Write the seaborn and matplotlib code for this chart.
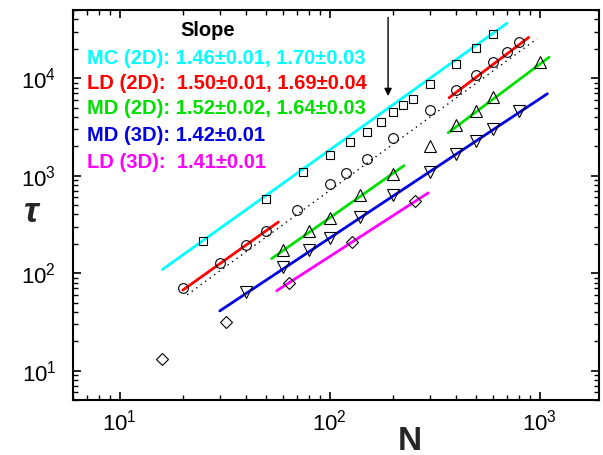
import matplotlib

matplotlib.use("Agg")

import matplotlib.pyplot as plt
import seaborn as sns

sns.set_theme(style="ticks")
plt.rcParams["font.family"] = ["Liberation Sans", "DejaVu Sans"]
plt.rcParams["mathtext.fontset"] = "custom"
plt.rcParams["mathtext.rm"] = "Liberation Sans"

# simulation points (N, tau)
N_MC2D = [25, 50, 75, 100, 125, 150, 175, 200, 225, 250, 300, 400, 500, 600]
tau_MC2D = [214, 578, 1080, 1640, 2190, 2830, 3580, 4470, 5340, 6060, 8750, 14100, 20400, 28600]

N_LD2D = [20, 30, 40, 50, 70, 100, 120, 150, 200, 300, 400, 500, 600, 700, 800]
tau_LD2D = [70, 126, 193, 272, 447, 819, 1060, 1490, 2430, 4680, 7490, 10900, 14700, 18400, 23500]

N_MD2D = [60, 80, 100, 140, 200, 300, 400, 500, 600, 1000]
tau_MD2D = [174, 273, 369, 640, 1050, 2020, 3310, 4640, 6400, 14500]

N_MD3D = [40, 60, 80, 100, 140, 200, 300, 400, 500, 600, 800]
tau_MD3D = [64, 115, 171, 228, 373, 640, 1080, 1650, 2280, 3020, 4600]

N_LD3D = [16, 32, 64, 128, 256]
tau_LD3D = [13.3, 31.4, 79, 210, 547]

# power-law fit segments (end points)
fit_MC2D_N = [16, 700]
fit_MC2D_tau = [109, 36600]
fit_LD2D_small_N = [20, 57]
fit_LD2D_small_tau = [67, 334]
fit_LD2D_large_N = [371, 889]
fit_LD2D_large_tau = [6300, 26200]
fit_MD2D_small_N = [53, 226]
fit_MD2D_small_tau = [141, 1265]
fit_MD2D_large_N = [367, 1111]
fit_MD2D_large_tau = [2750, 16400]
fit_MD3D_N = [30, 1090]
fit_MD3D_tau = [41, 6920]
fit_LD3D_N = [56, 295]
fit_LD3D_tau = [66, 665]
guide_N = [21, 974]
guide_tau = [60, 25400]

CYAN = "#00ffff"
RED = "#ff0000"
GREEN = "#00e000"
BLUE = "#0000e0"
MAGENTA = "#ff00ff"

legend_lines = [
    ("MC (2D): 1.46\u00b10.01, 1.70\u00b10.03", CYAN),
    ("LD (2D):  1.50\u00b10.01, 1.69\u00b10.04", RED),
    ("MD (2D): 1.52\u00b10.02, 1.64\u00b10.03", GREEN),
    ("MD (3D): 1.42\u00b10.01", BLUE),
    ("LD (3D):  1.41\u00b10.01", MAGENTA),
]

fig = plt.figure(figsize=(6.03, 4.55), dpi=100)
ax = fig.add_axes([73 / 603, 55 / 455, 526 / 603, 390 / 455])
ax.set_xscale("log")
ax.set_yscale("log")

line_kw = dict(linewidth=2, ax=ax)
sns.lineplot(x=fit_MC2D_N, y=fit_MC2D_tau, color=CYAN, **line_kw)
sns.lineplot(x=guide_N, y=guide_tau, color="black", linestyle=(0, (1, 3)), linewidth=1, ax=ax)
sns.lineplot(x=fit_LD2D_small_N, y=fit_LD2D_small_tau, color=RED, **line_kw)
sns.lineplot(x=fit_LD2D_large_N, y=fit_LD2D_large_tau, color=RED, **line_kw)
sns.lineplot(x=fit_MD2D_small_N, y=fit_MD2D_small_tau, color=GREEN, **line_kw)
sns.lineplot(x=fit_MD2D_large_N, y=fit_MD2D_large_tau, color=GREEN, **line_kw)
sns.lineplot(x=fit_MD3D_N, y=fit_MD3D_tau, color=BLUE, **line_kw)
sns.lineplot(x=fit_LD3D_N, y=fit_LD3D_tau, color=MAGENTA, **line_kw)

marker_kw = dict(linestyle="", markerfacecolor="none", markeredgecolor="black",
                 markeredgewidth=0.8, ax=ax)
sns.lineplot(x=N_MC2D, y=tau_MC2D, marker="s", markersize=6, **marker_kw)
sns.lineplot(x=N_LD2D, y=tau_LD2D, marker="o", markersize=7, **marker_kw)
sns.lineplot(x=N_MD2D, y=tau_MD2D, marker="^", markersize=8, **marker_kw)
sns.lineplot(x=N_MD3D, y=tau_MD3D, marker="v", markersize=8, **marker_kw)
sns.lineplot(x=N_LD3D, y=tau_LD3D, marker="D", markersize=6, **marker_kw)

ax.annotate("", xy=(190, 6550), xytext=(190, 42000),
            arrowprops=dict(arrowstyle="-|>", color="black", lw=1,
                            mutation_scale=11, shrinkA=0, shrinkB=0))

ax.set_xlim(6, 1920)
ax.set_ylim(5, 5e4)

ax.text((208 - 73) / 526, (400 - 36.5) / 390, "Slope", transform=ax.transAxes,
        ha="center", va="baseline", fontsize=14.5, fontweight="bold", color="black")
baselines = [64, 89, 114, 141, 168]
for (label, color), base in zip(legend_lines, baselines):
    ax.text(0.026, (400 - base) / 390, label, transform=ax.transAxes,
            ha="left", va="baseline", fontsize=14.5, fontweight="bold", color=color)

for side in ["left", "right", "top", "bottom"]:
    ax.spines[side].set_visible(True)
    ax.spines[side].set_linewidth(1.5)
    ax.spines[side].set_color("black")
ax.tick_params(which="both", direction="in", top=True, right=True, colors="black")
ax.tick_params(which="major", length=6, width=1.2, labelsize=16)
ax.tick_params(axis="y", which="major", pad=12)
ax.tick_params(axis="x", which="major", pad=7)
ax.tick_params(which="minor", length=3.5, width=1.0)
ax.grid(False)

ax.set_xlabel("N", fontsize=24, fontweight="bold", va="center")
ax.xaxis.set_label_coords((410 - 73) / 526, (400 - 441) / 390)
ax.set_ylabel("\u03c4", fontsize=26, fontweight="bold", fontstyle="italic",
              rotation=0, va="center", ha="center")
ax.yaxis.set_label_coords((31 - 73) / 526, (400 - 212) / 390)

fig.savefig("out.png", dpi=100)
plt.close(fig)
